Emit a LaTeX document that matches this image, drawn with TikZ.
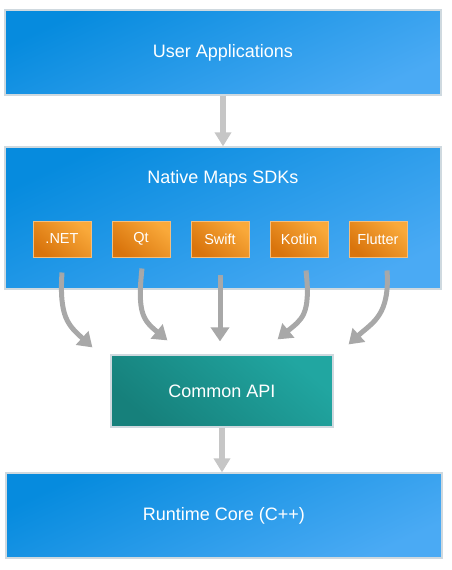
\documentclass[tikz,border=0pt]{standalone}
\usepackage{fontspec}
\setmainfont{Liberation Sans}
\usetikzlibrary{arrows.meta,positioning,calc,fadings}
\definecolor{MapsBlueDark}{HTML}{068BDE}
\definecolor{MapsBlueLight}{HTML}{4AAAF4}
\definecolor{MapsOrangeDark}{HTML}{D9740C}
\definecolor{MapsOrangeLight}{HTML}{F9A93A}
\definecolor{MapsTealDark}{HTML}{16807B}
\definecolor{MapsTealLight}{HTML}{21A6A1}
\definecolor{MapsEdge}{HTML}{CFD9DF}
\definecolor{MapsOrangeEdge}{HTML}{F3BE7E}
\definecolor{MapsArrow}{HTML}{C6C6C6}
\definecolor{MapsBend}{HTML}{A8A8A8}
\pgfdeclareverticalshading{curvefadeshade}{100bp}{color(0bp)=(white); color(72bp)=(white); color(100bp)=(black)}
\pgfdeclarefading{curvefade}{\pgfuseshading{curvefadeshade}}
\tikzset{
  layer/.style={draw=MapsEdge, line width=1.2pt, minimum width=436pt, text=white,
                font=\fontsize{18}{20}\selectfont, top color=MapsBlueDark,
                bottom color=MapsBlueLight, shading angle=25},
  sdk/.style={draw=MapsOrangeEdge, line width=1pt, minimum width=58pt, minimum height=36pt,
              inner sep=0pt, text=white, font=\fontsize{14.5}{16}\selectfont,
              top color=MapsOrangeLight, bottom color=MapsOrangeDark, shading angle=-40},
  api/.style={draw=MapsEdge, line width=1.2pt, minimum width=222pt, minimum height=72pt,
              text=white, font=\fontsize{18}{20}\selectfont,
              top color=MapsTealLight, bottom color=MapsTealDark, shading angle=-40},
  link/.style={-{Triangle[length=14pt,width=16pt]}, line width=6pt, draw=MapsArrow},
  curvelink/.style={-{Triangle[length=14pt,width=18pt]}, line width=5pt, draw=MapsBend,
               path fading=curvefade},
}
\begin{document}
\begin{tikzpicture}[x=1pt,y=-1pt]
  \useasboundingbox (0,0) rectangle (452,570);
  \node[layer,minimum height=85pt] (user) at (223,52.5) {User Applications};
  \node[layer,minimum height=142pt] (sdks) at (223,218) {};
  \node[text=white,font=\fontsize{18}{20}\selectfont] (sdktitle) at (223,179) {Native Maps SDKs};
  \node[sdk] (net) at (62,239) {.NET};
  \node[sdk,right=20pt of net] (qt) {Qt};
  \node[sdk,right=20pt of qt] (swift) {Swift};
  \node[sdk,right=20pt of swift] (kotlin) {Kotlin};
  \node[sdk,right=20pt of kotlin] (flutter) {Flutter};
  \node[api] (api) at (222,391) {Common API};
  \node[layer,minimum height=85pt] (core) at (224,515.5) {Runtime Core (C++)};
  \coordinate (netend) at ($(api.north west)+(-18,-7)$);
  \coordinate (qtend) at ($(api.north west)+(57,-14)$);
  \coordinate (swiftend) at ($(swift.south |- api.north)+(0,-13)$);
  \coordinate (kotlinend) at ($(api.north east)+(-56,-15)$);
  \coordinate (flutterend) at ($(api.north east)+(15,-10)$);
  \draw[link] (user) -- (sdks);
  \draw[link] (api.south) -- (api.south |- core.north);
  % bent arrows into the common layer (the two moves widen the fading box)
  \draw[curvelink] ($(netend)+(-14,14)$) ($(netend)+(14,14)$)
    ($(net.south)+(0,15)$) .. controls +(-3,45) and +(-24,-22) .. (netend);
  \draw[curvelink] ($(qtend)+(-14,14)$) ($(qtend)+(14,14)$)
    ($(qt.south)+(1,11)$) .. controls +(-5,45) and +(-24,-20) .. (qtend);
  \draw[curvelink] ($(swiftend)+(-14,14)$) ($(swiftend)+(14,14)$)
    ($(swift.south)+(0,18)$) -- (swiftend);
  \draw[curvelink] ($(kotlinend)+(-14,14)$) ($(kotlinend)+(14,14)$)
    ($(kotlin.south)+(7,13)$) .. controls +(5,45) and +(24,-20) .. (kotlinend);
  \draw[curvelink] ($(flutterend)+(-14,14)$) ($(flutterend)+(14,14)$)
    ($(flutter.south)+(9,13)$) .. controls +(3,45) and +(24,-22) .. (flutterend);
\end{tikzpicture}
\end{document}
